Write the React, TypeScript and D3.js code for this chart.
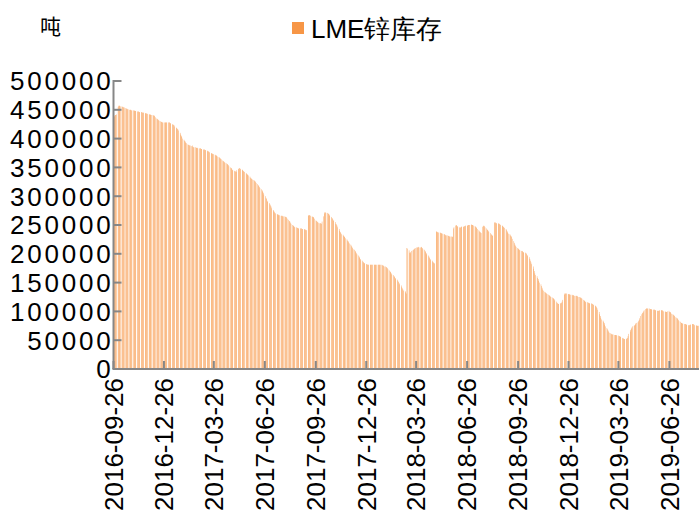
import { useEffect, useRef } from "react";
import * as d3 from "d3";

const FIRST_DAY = "2016-09-26";
const LAST_DAY = "2019-08-31";
const TICK_LABELS = [
  "2016-09-26", "2016-12-26", "2017-03-26", "2017-06-26", "2017-09-26", "2017-12-26",
  "2018-03-26", "2018-06-26", "2018-09-26", "2018-12-26", "2019-03-26", "2019-06-26",
];
const Y_TICKS = [0, 50000, 100000, 150000, 200000, 250000, 300000, 350000, 400000, 450000, 500000];
const SERIES_NAME = "LME锌库存";
const UNIT = "吨";

// LME zinc stocks, thousand tonnes, one value per trading day (Mon-Fri), five per row
const ZINC_STOCK_KT = [
  438, 440, 441, 441, 442, 455, 457, 457, 457, 456, 456, 455, 455, 454, 454,
  453, 452, 452, 451, 451, 450, 450, 450, 449, 449, 449, 449, 448, 448, 448,
  447, 447, 447, 446, 446, 446, 446, 445, 445, 445, 444, 444, 444, 443, 443,
  442, 442, 442, 441, 441, 441, 440, 440, 439, 437, 435, 434, 433, 432, 431,
  430, 429, 429, 428, 428, 428, 428, 428, 428, 428, 428, 428, 428, 427, 426,
  425, 424, 424, 423, 421, 419, 418, 417, 416, 414, 410, 407, 405, 403, 400,
  398, 396, 395, 393, 392, 390, 389, 389, 388, 388, 387, 388, 386, 385, 385,
  385, 384, 384, 384, 383, 383, 383, 383, 382, 382, 381, 381, 381, 380, 380,
  379, 378, 378, 377, 376, 375, 374, 374, 373, 373, 372, 371, 371, 370, 369,
  368, 367, 366, 365, 364, 362, 361, 360, 359, 358, 357, 356, 355, 354, 352,
  350, 349, 348, 346, 345, 344, 343, 343, 342, 345, 347, 348, 349, 348, 347,
  346, 345, 344, 343, 342, 340, 339, 338, 337, 336, 334, 332, 331, 330, 329,
  328, 327, 326, 325, 323, 321, 319, 318, 316, 314, 312, 310, 308, 306, 303,
  300, 297, 295, 292, 290, 288, 286, 284, 282, 279, 276, 274, 273, 271, 270,
  269, 268, 268, 267, 267, 266, 266, 266, 265, 265, 265, 264, 264, 263, 261,
  259, 257, 256, 254, 252, 250, 249, 248, 247, 246, 246, 245, 245, 244, 244,
  244, 244, 244, 243, 243, 243, 242, 242, 241, 241, 266, 267, 267, 267, 266,
  265, 264, 264, 263, 261, 258, 257, 256, 255, 254, 253, 253, 253, 252, 256,
  265, 270, 272, 272, 271, 271, 270, 269, 268, 266, 264, 262, 261, 259, 257,
  255, 252, 251, 249, 246, 243, 240, 238, 236, 234, 233, 231, 230, 229, 227,
  225, 223, 222, 220, 218, 216, 214, 212, 210, 208, 207, 205, 203, 201, 199,
  197, 195, 193, 191, 189, 188, 186, 185, 184, 183, 182, 182, 181, 181, 181,
  181, 181, 181, 181, 181, 181, 181, 181, 181, 181, 181, 181, 181, 181, 181,
  181, 180, 180, 179, 178, 178, 177, 176, 175, 173, 171, 169, 168, 166, 164,
  163, 161, 160, 158, 156, 155, 153, 151, 149, 147, 145, 142, 140, 138, 136,
  135, 133, 131, 210, 209, 206, 202, 201, 203, 205, 206, 207, 208, 209, 210,
  211, 211, 211, 212, 211, 211, 212, 211, 210, 208, 207, 205, 203, 201, 199,
  197, 195, 193, 191, 189, 188, 186, 185, 184, 183, 239, 238, 238, 237, 237,
  237, 236, 236, 235, 235, 234, 234, 233, 232, 232, 232, 231, 231, 230, 230,
  230, 229, 230, 244, 246, 249, 250, 249, 248, 247, 246, 245, 246, 247, 247,
  247, 247, 248, 248, 249, 249, 249, 250, 250, 250, 250, 251, 250, 250, 249,
  248, 247, 246, 245, 243, 241, 239, 238, 237, 236, 247, 248, 249, 248, 246,
  244, 242, 241, 240, 238, 236, 234, 233, 232, 231, 254, 255, 254, 253, 253,
  253, 252, 252, 251, 250, 249, 248, 247, 246, 245, 243, 241, 239, 237, 235,
  234, 232, 231, 229, 226, 222, 219, 216, 214, 212, 210, 209, 208, 207, 206,
  205, 205, 204, 203, 202, 202, 201, 200, 198, 196, 194, 191, 188, 185, 182,
  178, 174, 170, 166, 163, 161, 158, 156, 153, 150, 147, 144, 141, 138, 136,
  134, 133, 132, 131, 130, 129, 128, 127, 126, 125, 124, 123, 122, 121, 119,
  117, 115, 114, 113, 113, 114, 114, 115, 117, 120, 129, 131, 131, 131, 131,
  130, 130, 130, 129, 129, 129, 128, 128, 128, 127, 127, 127, 127, 126, 125,
  125, 124, 124, 123, 122, 120, 119, 118, 117, 116, 116, 115, 115, 114, 114,
  114, 113, 113, 112, 111, 110, 109, 108, 106, 103, 99, 95, 92, 89, 86,
  84, 82, 80, 77, 74, 71, 69, 67, 65, 63, 62, 61, 60, 60, 60,
  59, 59, 59, 59, 58, 58, 57, 57, 56, 56, 54, 53, 53, 52, 52,
  52, 53, 54, 57, 61, 65, 68, 70, 72, 74, 75, 76, 77, 79, 80,
  81, 83, 85, 88, 92, 95, 97, 98, 100, 102, 104, 105, 105, 105, 105,
  105, 104, 104, 104, 103, 103, 103, 103, 102, 102, 101, 101, 101, 101, 102,
  102, 102, 102, 101, 100, 100, 99, 99, 99, 100, 101, 99, 99, 98, 96,
  95, 94, 93, 92, 90, 89, 88, 87, 85, 83, 82, 80, 80, 79, 79,
  78, 78, 78, 77, 77, 76, 76, 76, 77, 77, 78, 78, 78, 77, 76,
  76, 75, 75, 75, 75,
];

const W = 699;
const H = 510;
const ORANGE = "#F79646";
const AXIS = "#878787";
const FONT = "'Liberation Sans', Arial, sans-serif";
const CJK = "'Noto Sans CJK SC', sans-serif";

const parse = d3.timeParse("%Y-%m-%d");

function tradingDays(start: Date, n: number) {
  const out: Date[] = [];
  const d = new Date(start);
  while (out.length < n) {
    const wd = d.getDay();
    if (wd !== 0 && wd !== 6) out.push(new Date(d));
    d.setDate(d.getDate() + 1);
  }
  return out;
}

export default function App() {
  const ref = useRef<SVGSVGElement>(null);

  useEffect(() => {
    if (!ref.current) return;
    const svg = d3.select(ref.current);
    svg.selectAll("*").remove();

    const margin = { left: 113.5, top: 81, bottom: 369, right: 706 };
    const days = tradingDays(parse(FIRST_DAY)!, ZINC_STOCK_KT.length);
    const data = days.map((d, i) => ({ date: d, value: ZINC_STOCK_KT[i] * 1000 }));

    const x = d3
      .scaleTime()
      .domain([parse(FIRST_DAY)!, parse(LAST_DAY)!])
      .range([margin.left, margin.right]);
    const y = d3.scaleLinear().domain([0, 500000]).range([margin.bottom, margin.top]);
    const dayPx = x(d3.timeDay.offset(parse(FIRST_DAY)!, 1)) - x(parse(FIRST_DAY)!);

    // bars
    svg
      .append("g")
      .selectAll("rect")
      .data(data)
      .join("rect")
      .attr("x", (d) => x(d.date) + 0.5)
      .attr("y", (d) => y(d.value))
      .attr("width", dayPx * 0.75)
      .attr("height", (d) => y(0) - y(d.value))
      .attr("fill", ORANGE);

    // y axis
    const gy = svg.append("g").attr("transform", `translate(${margin.left},0)`);
    gy.append("line")
      .attr("x1", 0).attr("x2", 0)
      .attr("y1", y(500000) - 1).attr("y2", y(0))
      .attr("stroke", AXIS).attr("stroke-width", 2);
    gy.selectAll(".tk")
      .data(Y_TICKS)
      .join("line")
      .attr("x1", 0).attr("x2", 8)
      .attr("y1", (d) => y(d)).attr("y2", (d) => y(d))
      .attr("stroke", AXIS).attr("stroke-width", 2);
    gy.selectAll("text")
      .data(Y_TICKS)
      .join("text")
      .attr("x", 0)
      .attr("y", (d) => y(d))
      .attr("dy", "0.36em")
      .attr("text-anchor", "end")
      .style("font-family", FONT)
      .style("font-size", "26px")
      .style("letter-spacing", "2.8px")
      .style("fill", "#000")
      .text((d) => String(d));

    // x axis
    const ticks = TICK_LABELS.map((s) => ({ s, d: parse(s)! }));
    const gx = svg.append("g");
    gx.append("line")
      .attr("x1", margin.left - 1).attr("x2", margin.right)
      .attr("y1", y(0)).attr("y2", y(0))
      .attr("stroke", AXIS).attr("stroke-width", 2);
    gx.selectAll(".tk")
      .data(ticks)
      .join("line")
      .attr("x1", (d) => x(d.d)).attr("x2", (d) => x(d.d))
      .attr("y1", y(0)).attr("y2", y(0) - 8)
      .attr("stroke", AXIS).attr("stroke-width", 2);
    gx.selectAll("text")
      .data(ticks)
      .join("text")
      .attr("transform", (d) => `translate(${x(d.d)},${y(0) + 9}) rotate(-90)`)
      .attr("dy", "0.36em")
      .attr("text-anchor", "end")
      .style("font-family", FONT)
      .style("font-size", "26px")
      .style("fill", "#000")
      .text((d) => d.s);

    // unit
    svg.append("text")
      .attr("x", 40).attr("y", 34)
      .style("font-family", CJK)
      .style("font-size", "21px")
      .text(UNIT);

    // legend
    svg.append("rect")
      .attr("x", 292).attr("y", 22).attr("width", 12).attr("height", 12)
      .attr("fill", ORANGE);
    svg.append("text")
      .attr("x", 311).attr("y", 38)
      .style("font-family", FONT)
      .style("font-size", "26px")
      .text(SERIES_NAME);
  }, []);

  return (
    <div style={{ position: "fixed", left: 0, top: 0, background: "#fff" }}>
      <svg ref={ref} width={W} height={H} style={{ display: "block" }} />
    </div>
  );
}
